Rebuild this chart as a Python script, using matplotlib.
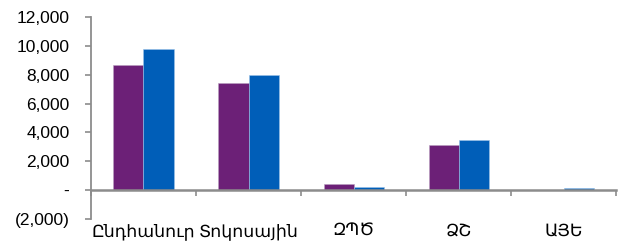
import matplotlib.pyplot as plt
import numpy as np
from matplotlib.ticker import FuncFormatter

plt.rcParams["font.family"] = ["Liberation Sans", "DejaVu Sans"]

categories = ["Ընդհանուր", "Տոկոսային", "ԶՊԾ", "ՁՇ", "ԱՅԵ"]
series_a = [8650, 7400, 400, 3100, 0]
series_b = [9800, 7950, 250, 3450, 130]
yticks = [-2000, 0, 2000, 4000, 6000, 8000, 10000, 12000]

color_a = "#6c2077"
color_b = "#005eb8"
axis_gray = "#8c8c8c"


def fmt_y(v, pos):
    if abs(v) < 1e-9:
        return "-"
    if v < 0:
        return f"({abs(v):,.0f})"
    return f"{v:,.0f}"


fig = plt.figure(figsize=(6.23, 2.42), dpi=100)
ax = fig.add_axes([0.146, 0.095, 0.843, 0.835])

x = np.arange(len(categories))
w = 0.286
ax.bar(x - w / 2, series_a, width=w, color=color_a, edgecolor="#b9a0c0", linewidth=0.4, zorder=3)
ax.bar(x + w / 2, series_b, width=w, color=color_b, edgecolor="#9cc3e8", linewidth=0.4, zorder=3)

ax.set_xlim(-0.5, len(categories) - 0.5)
ax.set_ylim(-2000, 12000)
ax.set_yticks(yticks)
ax.yaxis.set_major_formatter(FuncFormatter(fmt_y))

for s in ["top", "right"]:
    ax.spines[s].set_visible(False)
ax.spines["left"].set_color(axis_gray)
ax.spines["left"].set_linewidth(1.3)
ax.spines["bottom"].set_position(("data", 0))
ax.spines["bottom"].set_color(axis_gray)
ax.spines["bottom"].set_linewidth(1.8)
ax.spines["bottom"].set_zorder(4)

# category boundary ticks on the zero line, labels sit at the bottom of the axes
ax.set_xticks(np.arange(len(categories) + 1) - 0.5)
ax.set_xticklabels([])
ax.tick_params(axis="x", direction="out", length=4, width=1.2, color=axis_gray)
ax.tick_params(axis="y", direction="out", length=4.5, width=1.2, color=axis_gray,
               labelsize=12.5, pad=11, labelcolor="black")

sec = ax.secondary_xaxis(0)
sec.set_xticks(x)
sec.set_xticklabels(categories, fontsize=12.5)
sec.tick_params(length=0, pad=3)
sec.spines["bottom"].set_visible(False)

fig.savefig("out.png", dpi=100)
